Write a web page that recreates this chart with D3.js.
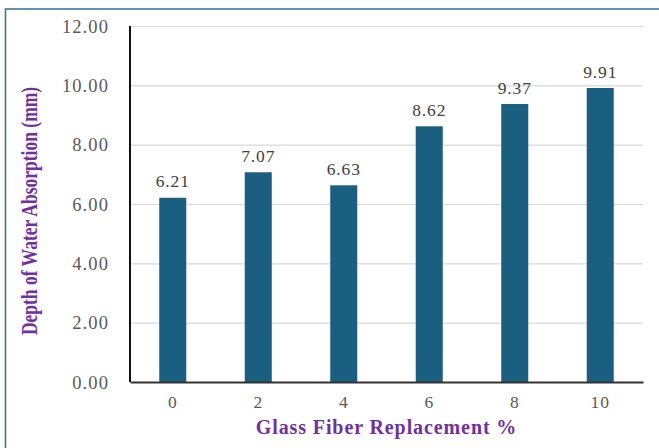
<!DOCTYPE html>
<html>
<head>
<meta charset="utf-8">
<script src="https://cdn.jsdelivr.net/npm/d3@7/dist/d3.min.js"></script>
<style>
  html, body { margin: 0; padding: 0; background: #fff; }
  svg { display: block; }
</style>
</head>
<body>
<svg id="chart" width="659" height="448"></svg>
<script>
// Glass fiber replacement levels (%) and measured depth of water absorption (mm)
const categories = ["0", "2", "4", "6", "8", "10"];
const depthValues = [6.21, 7.07, 6.63, 8.62, 9.37, 9.91];
const yTickValues = [0, 2, 4, 6, 8, 10, 12];

const xTitle = "Glass Fiber Replacement %";
const yTitle = "Depth of Water Absorption (mm)";

const serif = "'Liberation Serif', 'Times New Roman', Times, serif";

const svg = d3.select("#chart");
const W = 659, H = 448;
const margin = { left: 130, right: 16, top: 26, bottom: 66 };
const plotW = W - margin.left - margin.right;
const plotH = H - margin.top - margin.bottom;

// outer frame of the figure
svg.append("rect")
  .attr("x", 5.5).attr("y", 9)
  .attr("width", W + 10).attr("height", H + 10)
  .attr("fill", "none")
  .attr("stroke", "#2f7199")
  .attr("stroke-width", 1.5);

const g = svg.append("g").attr("transform", `translate(${margin.left},${margin.top})`);

const x = d3.scaleBand()
  .domain(categories)
  .range([0, plotW])
  .paddingInner(0.684)
  .paddingOuter(0.342);

const y = d3.scaleLinear().domain([0, 12]).range([plotH, 0]);

// horizontal gridlines
g.append("g")
  .call(d3.axisLeft(y).tickValues(yTickValues).tickSize(-plotW).tickFormat(""))
  .call(s => s.select(".domain").remove())
  .call(s => s.selectAll(".tick line").attr("stroke", "#d9d9d9").attr("stroke-width", 1.2));

// y axis tick labels
g.append("g")
  .call(d3.axisLeft(y).tickValues(yTickValues).tickSize(0).tickPadding(21).tickFormat(d3.format(".2f")))
  .call(s => s.select(".domain").remove())
  .call(s => s.selectAll(".tick text")
    .attr("fill", "#595959")
    .attr("dy", "0.34em")
    .style("font-family", serif)
    .style("font-size", "18.5px")
    .style("letter-spacing", "1.1px"));

// bars
g.selectAll("rect.bar")
  .data(depthValues)
  .join("rect")
  .attr("class", "bar")
  .attr("x", (d, i) => x(categories[i]))
  .attr("y", d => y(d))
  .attr("width", x.bandwidth())
  .attr("height", d => plotH - y(d))
  .attr("fill", "#1b5f80");

// value labels
g.selectAll("text.val")
  .data(depthValues)
  .join("text")
  .attr("class", "val")
  .attr("x", (d, i) => x(categories[i]) + x.bandwidth() / 2)
  .attr("y", d => y(d) - 10.5)
  .attr("text-anchor", "middle")
  .attr("fill", "#404040")
  .style("font-family", serif)
  .style("font-size", "17.5px")
  .style("letter-spacing", "0.9px")
  .text(d => d.toFixed(2));

// y axis line
g.append("line")
  .attr("x1", 0).attr("x2", 0)
  .attr("y1", 0).attr("y2", plotH)
  .attr("stroke", "#111")
  .attr("stroke-width", 2);

// x axis with category labels
g.append("g")
  .attr("transform", `translate(0,${plotH})`)
  .call(d3.axisBottom(x).tickSize(0).tickPadding(14))
  .call(s => s.select(".domain").attr("stroke", "#333").attr("stroke-width", 1.8))
  .call(s => s.selectAll(".tick text")
    .attr("fill", "#595959")
    .style("font-family", serif)
    .style("font-size", "17.5px")
    .style("letter-spacing", "0.9px"));

// axis titles
svg.append("text")
  .attr("x", margin.left + plotW / 2)
  .attr("y", 433.5)
  .attr("text-anchor", "middle")
  .attr("fill", "#7030a0")
  .style("font-family", serif)
  .style("font-size", "20px")
  .style("font-weight", "bold")
  .style("letter-spacing", "0.9px")
  .text(xTitle);

svg.append("text")
  .attr("transform", "translate(37,211) rotate(-90) scale(1,1.27)")
  .attr("text-anchor", "middle")
  .attr("fill", "#7030a0")
  .style("font-family", serif)
  .style("font-size", "17.5px")
  .style("font-weight", "bold")
  .text(yTitle);
</script>
</body>
</html>
